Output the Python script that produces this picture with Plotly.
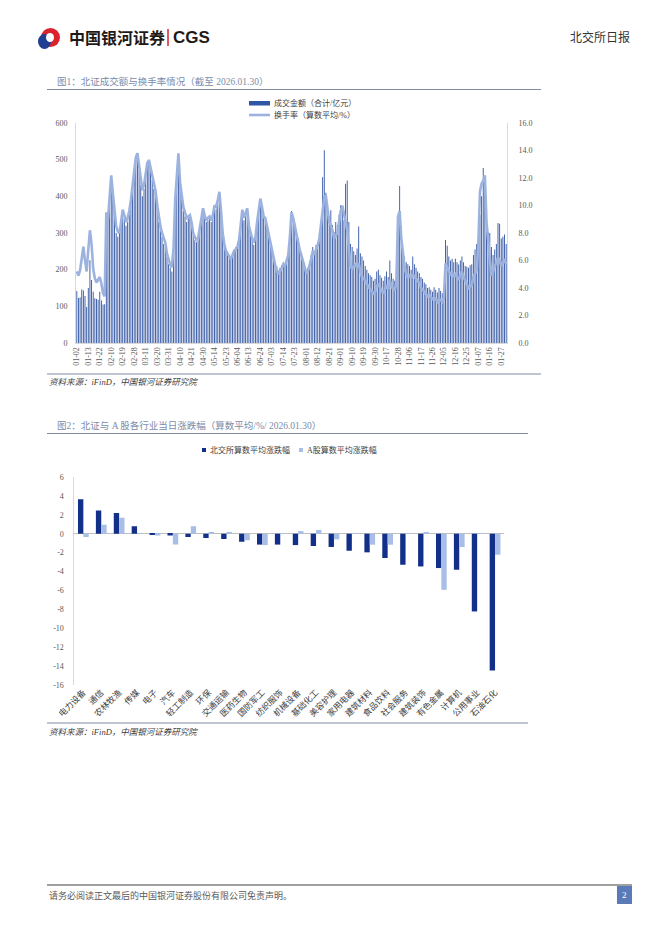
import pandas as pd
import plotly.graph_objects as go

# The page body adds an 8px margin around the figure; the figure is sized so
# that figure + margins exactly fill the 662x936 window, and every position
# below is given in window pixels.
OFF = 8
W, H = 662 - 2 * OFF, 936 - 2 * OFF


def px(x):
    return (x - OFF) / W


def py(y):
    return 1 - (y - OFF) / H


SERIF = "Liberation Serif, Noto Sans CJK SC"
CJK = "Noto Sans CJK SC"

# ---------------- Chart 1 data ----------------
HOLIDAYS = [
    "2025-01-01", "2025-01-28", "2025-01-29", "2025-01-30", "2025-01-31",
    "2025-02-03", "2025-02-04", "2025-04-04", "2025-05-01", "2025-05-02",
    "2025-05-05", "2025-06-02", "2025-10-01", "2025-10-02", "2025-10-03",
    "2025-10-06", "2025-10-07", "2025-10-08", "2026-01-01", "2026-01-02",
]

TICK_LABELS = [
    "01-02", "01-13", "01-22", "02-10", "02-19", "02-28", "03-11", "03-20",
    "03-31", "04-10", "04-21", "04-30", "05-14", "05-23", "06-04", "06-13",
    "06-24", "07-03", "07-14", "07-23", "08-01", "08-12", "08-21", "09-01",
    "09-10", "09-19", "09-30", "10-17", "10-28", "11-06", "11-17", "11-26",
    "12-05", "12-16", "12-25", "01-07", "01-16", "01-27",
]

# 成交金额（合计/亿元）
AMOUNT = [
    142, 123, 125, 146, 143, 128, 98,
    150, 226, 172, 140, 122, 120, 118,
    140, 116, 105, 106, 280, 340, 370,
    440, 395, 345, 300, 290, 305, 330,
    355, 340, 320, 330, 350, 385, 420,
    470, 500, 515, 470, 430, 400, 420,
    455, 480, 500, 470, 445, 420, 400,
    370, 330, 305, 290, 270, 260, 235,
    215, 205, 195, 250, 380, 460, 510,
    430, 390, 360, 345, 330, 340, 345,
    325, 295, 280, 275, 280, 305, 340,
    365, 340, 330, 335, 340, 330, 345,
    370, 365, 385, 405, 355, 295, 265,
    255, 250, 238, 232, 245, 255, 262,
    265, 285, 330, 360, 335, 350, 365,
    315, 295, 280, 268, 285, 325, 355,
    390, 365, 340, 335, 315, 295, 275,
    260, 240, 222, 210, 198, 205, 212,
    220, 215, 230, 245, 295, 360, 345,
    325, 305, 285, 260, 245, 228, 210,
    195, 205, 222, 240, 262, 250, 268,
    275, 295, 330, 452, 526, 410, 367,
    345, 362, 322, 302, 330, 322, 350,
    376, 360, 335, 434, 443, 330, 270,
    262, 250, 240, 258, 318, 245, 236,
    225, 210, 200, 190, 185, 180, 170,
    175, 195, 200, 185, 178, 170, 182,
    195, 180, 225, 190, 175, 170, 200,
    340, 428, 320, 255, 235, 220, 215,
    210, 200, 236, 215, 205, 195, 190,
    180, 175, 165, 160, 150, 152, 145,
    140, 152, 145, 138, 150, 142, 136,
    150, 281, 265, 236, 225, 230, 220,
    230, 220, 214, 225, 236, 220, 210,
    208, 205, 212, 215, 240, 255, 270,
    290, 350, 400, 477, 430, 331, 302,
    300, 262, 240, 255, 270, 327, 325,
    285, 290, 296, 270,
]

# 换手率（算数平均/%）
RATE = [
    5.2, 4.9, 5.3, 6.2, 7.0, 6.0, 5.2,
    6.8, 8.2, 7.2, 5.4, 4.7, 4.4, 4.6,
    4.8, 4.3, 3.6, 3.4, 9.5, 9.0, 10.5,
    12.2, 10.9, 9.6, 8.5, 8.1, 8.0, 8.8,
    9.7, 9.3, 8.8, 9.1, 9.6, 10.4, 11.5,
    12.8, 13.5, 13.8, 12.8, 11.7, 11.1, 11.5,
    12.4, 13.1, 13.3, 12.8, 12.3, 11.7, 11.1,
    10.1, 9.2, 8.5, 8.0, 7.6, 7.3, 6.5,
    6.0, 5.7, 5.5, 6.9, 10.4, 12.5, 13.8,
    11.7, 10.7, 9.9, 9.5, 9.1, 9.2, 9.3,
    8.8, 8.0, 7.7, 7.5, 7.6, 8.3, 9.2,
    9.8, 9.3, 8.9, 9.1, 9.2, 8.9, 9.3,
    10.0, 9.9, 10.4, 11.0, 9.6, 8.0, 7.2,
    6.7, 6.5, 6.3, 6.1, 6.4, 6.7, 6.8,
    7.0, 7.5, 8.8, 9.7, 9.1, 9.5, 9.8,
    8.5, 8.0, 7.6, 7.3, 7.7, 8.8, 9.6,
    10.5, 9.9, 9.2, 9.1, 8.5, 8.0, 7.5,
    6.8, 6.3, 5.7, 5.3, 5.0, 5.2, 5.5,
    5.7, 5.6, 6.0, 6.4, 7.7, 9.5, 9.1,
    8.5, 8.0, 7.5, 6.8, 6.4, 5.9, 5.5,
    5.1, 5.2, 5.6, 6.1, 6.7, 6.4, 6.8,
    7.1, 7.6, 8.5, 9.8, 10.6, 10.7, 9.6,
    8.8, 8.6, 8.2, 7.6, 7.8, 8.0, 8.8,
    9.6, 10.0, 9.4, 8.8, 8.2, 7.0, 5.6,
    5.4, 5.6, 5.7, 5.5, 5.8, 5.2, 4.8,
    4.7, 4.5, 4.2, 4.0, 3.9, 3.8, 3.6,
    3.7, 4.1, 4.3, 4.0, 3.8, 3.6, 3.9,
    4.2, 3.9, 4.6, 4.1, 3.9, 3.8, 4.4,
    9.2, 9.6, 7.6, 6.6, 5.5, 5.0, 4.8,
    4.9, 4.7, 5.0, 4.8, 4.6, 4.5, 4.4,
    4.0, 3.9, 3.7, 3.6, 3.4, 3.5, 3.3,
    3.2, 3.3, 3.2, 3.0, 3.2, 3.1, 3.0,
    3.3, 5.8, 5.5, 5.2, 5.0, 5.1, 4.8,
    5.0, 4.8, 4.6, 4.9, 5.2, 4.8, 4.5,
    4.2, 4.0, 4.1, 4.2, 4.8, 5.1, 5.3,
    7.2, 11.0, 11.6, 11.8, 12.2, 8.8, 7.5,
    6.3, 4.9, 5.2, 5.6, 5.9, 6.2, 6.0,
    5.6, 5.8, 6.1, 5.7,
]

LEFT_TICKS = [0, 100, 200, 300, 400, 500, 600]
RIGHT_TICKS = [0, 2, 4, 6, 8, 10, 12, 14, 16]

# ---------------- Chart 2 data ----------------
INDUSTRIES = [
    "电力设备", "通信", "农林牧渔", "传媒", "电子", "汽车", "轻工制造", "环保",
    "交通运输", "医药生物", "国防军工", "纺织服饰", "机械设备", "基础化工",
    "美容护理", "家用电器", "建筑材料", "食品饮料", "社会服务", "建筑装饰",
    "有色金属", "计算机", "公用事业", "石油石化",
]
BSE_CHG = [
    3.65, 2.45, 2.2, 0.78, -0.1, -0.2, -0.35, -0.45, -0.55, -0.85, -1.15,
    -1.15, -1.2, -1.3, -1.4, -1.8, -1.97, -2.57, -3.28, -3.46, -3.63, -3.81,
    -8.22, -14.46,
]
A_CHG = [
    -0.35, 0.95, 1.7, 0.02, -0.2, -1.15, 0.78, 0.14, 0.14, -0.7, -1.2,
    0.07, 0.28, 0.4, -0.6, 0.05, -1.16, -1.16, 0.03, 0.17, -5.93, -1.41,
    0.03, -2.22,
]
Y3_TICKS = [6, 4, 2, 0, -2, -4, -6, -8, -10, -12, -14, -16]

# ---------------- derived categories ----------------
days = pd.bdate_range("2025-01-02", "2026-01-30")
dates = [d.strftime("%Y-%m-%d") for d in days if d.strftime("%Y-%m-%d") not in HOLIDAYS]

C_BAR = "rgba(42,78,160,0.97)"
C_BAR_LEG = "#2F55A6"
C_LINE = "#9DB3DF"
C_NAVY = "#12308A"
C_LIGHT = "#A9BEE6"

fig = go.Figure()
fig.add_trace(go.Bar(x=dates, y=AMOUNT, xaxis="x", yaxis="y", width=0.55,
                     marker=dict(color=C_BAR, line=dict(width=0)), name="成交金额（合计/亿元）"))
fig.add_trace(go.Scatter(x=dates, y=RATE, xaxis="x", yaxis="y2", mode="lines",
                         line=dict(color=C_LINE, width=2.6), name="换手率（算数平均/%）"))
fig.add_trace(go.Bar(x=INDUSTRIES, y=BSE_CHG, xaxis="x2", yaxis="y3", marker=dict(color=C_NAVY, line=dict(width=0)),
                     name="北交所算数平均涨跌幅"))
fig.add_trace(go.Bar(x=INDUSTRIES, y=A_CHG, xaxis="x2", yaxis="y3", marker=dict(color=C_LIGHT, line=dict(width=0)),
                     name="A股算数平均涨跌幅"))

tickfont = dict(size=8, family=SERIF, color="#595959")

fig.update_layout(
    width=W, height=H, margin=dict(l=0, r=0, t=0, b=0, autoexpand=False),
    paper_bgcolor="white", plot_bgcolor="rgba(0,0,0,0)",
    showlegend=False, barmode="group", bargap=0.4, bargroupgap=0,
    xaxis=dict(domain=[px(76), px(507)], anchor="y", type="category", range=[-0.5, len(dates) - 0.5],
               tickmode="array", tickvals=dates[::7], ticktext=TICK_LABELS, tickangle=-90,
               tickfont=tickfont, showline=True, linecolor="#D9D9D9", linewidth=1,
               showgrid=False, zeroline=False, ticks=""),
    yaxis=dict(domain=[py(343), py(123)], anchor="x", range=[0, 600], tickmode="array",
               tickvals=LEFT_TICKS, ticktext=[str(v) for v in LEFT_TICKS], tickfont=tickfont,
               showline=True, linecolor="#D9D9D9", linewidth=1, showgrid=False, zeroline=False,
               ticks="", ticklabelstandoff=6),
    yaxis2=dict(overlaying="y", side="right", anchor="x", range=[0, 16], tickmode="array",
                tickvals=RIGHT_TICKS, ticktext=[f"{v:.1f}" for v in RIGHT_TICKS], tickfont=tickfont,
                showline=True, linecolor="#D9D9D9", linewidth=1, showgrid=False, zeroline=False,
                ticks="", ticklabelstandoff=9),
    xaxis2=dict(domain=[px(74.4), px(504)], anchor="y3", type="category", tickangle=-45,
                tickfont=dict(size=8.5, family=CJK, color="#404040"), showline=False, showgrid=False,
                zeroline=False, ticks=""),
    yaxis3=dict(domain=[py(685), py(477)], anchor="x2", range=[-16, 6], tickmode="array",
                tickvals=Y3_TICKS, ticktext=[str(v) for v in Y3_TICKS], tickfont=tickfont,
                showline=True, linecolor="#D9D9D9", linewidth=1, showgrid=False,
                zeroline=True, zerolinecolor="#BFBFBF", zerolinewidth=1, ticks="",
                ticklabelstandoff=8),
)

shapes = []
annotations = []


def hline(x0, x1, y, color, width=1):
    shapes.append(dict(type="line", xref="paper", yref="paper", x0=px(x0), x1=px(x1), y0=py(y), y1=py(y),
                       line=dict(color=color, width=width)))


def text(x, y, s, size=8, color="#404040", family=SERIF, xanchor="left"):
    annotations.append(dict(xref="paper", yref="paper", x=px(x), y=py(y), text=s, showarrow=False,
                            xanchor=xanchor, yanchor="middle", font=dict(size=size, color=color, family=family)))


# header logo
shapes.append(dict(type="circle", xref="paper", yref="paper", x0=px(41), x1=px(60), y0=py(47), y1=py(28),
                   fillcolor="#D9232D", line=dict(width=0)))
shapes.append(dict(type="circle", xref="paper", yref="paper", x0=px(38), x1=px(51), y0=py(49), y1=py(34),
                   fillcolor="#1E3F92", line=dict(width=0)))
shapes.append(dict(type="circle", xref="paper", yref="paper", x0=px(46), x1=px(54), y0=py(42), y1=py(33),
                   fillcolor="white", line=dict(width=0)))
text(67, 37, "<b>中国银河证券</b>", size=16, color="#1F1A17", family=CJK)
shapes.append(dict(type="line", xref="paper", yref="paper", x0=px(168), x1=px(168), y0=py(29), y1=py(46),
                   line=dict(color="#D9232D", width=1.5)))
text(171, 37.5, "<b>CGS</b>", size=17, color="#1F1A17", family="Liberation Sans")
text(632, 37, "北交所日报", size=12, color="#333333", family=CJK, xanchor="right")

# chart 1 title & frame lines
text(55, 81, "图1：北证成交额与换手率情况（截至 2026.01.30）", size=9.5, color="#7A8BAA", family=SERIF)
hline(47, 541, 89.5, "#7F8CA3")
# chart 1 legend
shapes.append(dict(type="rect", xref="paper", yref="paper", x0=px(249), x1=px(270), y0=py(105.5), y1=py(101),
                   fillcolor=C_BAR_LEG, line=dict(width=0)))
text(272, 103, "成交金额（合计/亿元）", size=8, color="#404040")
hline(249, 270, 115, C_LINE, 2.6)
text(272, 115, "换手率（算数平均/%）", size=8, color="#404040")
hline(47, 541, 374, "#7F8CA3")
text(47, 382, "<i>资料来源：iFinD，中国银河证券研究院</i>", size=8.5, color="#404040")

# chart 2 title & frame lines
text(55, 425, "图2：北证与 A 股各行业当日涨跌幅（算数平均/%/ 2026.01.30）", size=9.5, color="#7A8BAA", family=SERIF)
hline(47, 528, 433.5, "#7F8CA3")
shapes.append(dict(type="rect", xref="paper", yref="paper", x0=px(202), x1=px(206), y0=py(452), y1=py(448),
                   fillcolor=C_NAVY, line=dict(width=0)))
text(208, 450, "北交所算数平均涨跌幅", size=8, color="#404040")
shapes.append(dict(type="rect", xref="paper", yref="paper", x0=px(299), x1=px(303), y0=py(452), y1=py(448),
                   fillcolor=C_LIGHT, line=dict(width=0)))
text(305, 450, "A股算数平均涨跌幅", size=8, color="#404040")
hline(47, 528, 723, "#7F8CA3")
text(47, 732, "<i>资料来源：iFinD，中国银河证券研究院</i>", size=8.5, color="#404040")

# footer
hline(47, 632, 885, "#404040")
text(47, 895, "请务必阅读正文最后的中国银河证券股份有限公司免责声明。", size=9, color="#595959", family=CJK)
shapes.append(dict(type="rect", xref="paper", yref="paper", x0=px(617), x1=px(632), y0=py(904), y1=py(886),
                   fillcolor="#5B7BB8", line=dict(width=0)))
text(624.5, 895, "2", size=9, color="white", xanchor="center")

fig.update_layout(shapes=shapes, annotations=annotations)
fig.write_html("out.html")
